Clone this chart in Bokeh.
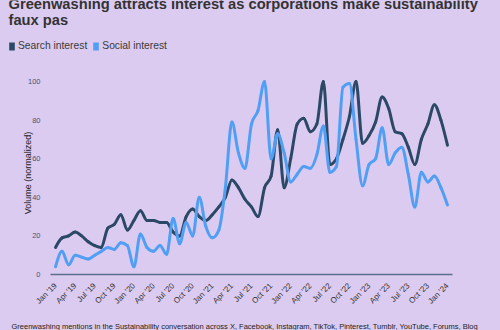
import numpy as np
from math import pi
from bokeh.plotting import figure
from bokeh.layouts import column
from bokeh.models import (Range1d, FixedTicker, Label, Legend, LegendItem, ColumnDataSource)
from bokeh.embed import file_html
from bokeh.resources import INLINE

# ---- data ----
tick_labels = ["Jan '19", "Apr '19", "Jul '19", "Oct '19", "Jan '20", "Apr '20", "Jul '20", "Oct '20",
               "Jan '21", "Apr '21", "Jul '21", "Oct '21", "Jan '22", "Apr '22", "Jul '22", "Oct '22",
               "Jan '23", "Apr '23", "Jul '23", "Oct '23", "Jan '24"]
search_interest = [14, 19, 20, 22, 20, 17, 15, 14, 24, 26,
                   31, 23, 28, 33, 28, 28, 27, 27, 22, 20,
                   30, 34, 30, 28, 31, 35, 40, 49, 45, 39,
                   35, 30, 45, 51, 75, 45, 60, 78, 81, 74,
                   78, 100, 57, 60, 70, 82, 100, 68, 72, 79,
                   92, 86, 74, 73, 66, 57, 70, 78, 88, 80,
                   67]
social_interest = [4, 12, 5, 10, 9, 8, 10, 12, 14, 13,
                   16.5, 15, 4, 21, 14, 12, 15, 10.5, 29, 16,
                   27, 20, 40, 25, 19, 23, 45, 79, 63, 55,
                   78, 85, 100, 60, 73, 63, 48, 52, 56, 55,
                   62, 77, 53, 56, 97, 99, 70, 46, 57, 60,
                   76, 57, 63, 66, 52, 35, 53, 48, 51, 45,
                   36]
months = list(range(len(search_interest)))
series_names = ["Search interest", "Social interest"]
title_lines = ["Greenwashing attracts interest as corporations make sustainability", "faux pas"]
caption_lines = ["Greenwashing mentions in the Sustainability conversation across X, Facebook, "
                 "Instagram, TikTok, Pinterest, Tumblr, YouTube, Forums, Blog",
                 "and Reddit, and Google Search volume interest, Jan 2019 to Jan 2024."]

BG = "#dccbf0"
DARK = "#2b4966"
LIGHT = "#519ff4"
FONT = "Liberation Sans"
W = 500


def monotone_bezier(xs, ys):
    """Control points of a monotone cubic curve (as D3 curveMonotoneX)."""
    x = np.asarray(xs, float)
    y = np.asarray(ys, float)
    h = np.diff(x)
    s = np.diff(y) / h
    n = len(x)
    t = np.zeros(n)
    for i in range(1, n - 1):
        h0, h1 = h[i - 1], h[i]
        s0, s1 = s[i - 1], s[i]
        p_ = (s0 * h1 + s1 * h0) / (h0 + h1)
        t[i] = (np.sign(s0) + np.sign(s1)) * min(abs(s0), abs(s1), 0.5 * abs(p_))
    t[0] = (3 * s[0] - t[1]) / 2
    t[-1] = (3 * s[-1] - t[-2]) / 2
    d = h / 3
    return dict(x0=x[:-1], y0=y[:-1], x1=x[1:], y1=y[1:],
                cx0=x[:-1] + d, cy0=y[:-1] + t[:-1] * d,
                cx1=x[1:] - d, cy1=y[1:] - t[1:] * d)


def panel(height):
    f = figure(width=W, height=height, output_backend="svg", toolbar_location=None,
               x_range=Range1d(0, W), y_range=Range1d(height, 0),
               x_axis_type=None, y_axis_type=None,
               min_border=0, background_fill_color=BG, border_fill_color=BG,
               outline_line_color=None)
    f.grid.visible = False
    f.frame_align = False
    f.styles = {"background-color": BG}
    return f


# ---- header: title + legend ----
HEAD_H = 71
head = panel(HEAD_H)
for txt, yy in zip(title_lines, [3.5, 19]):
    head.add_layout(Label(x=8, y=yy, text=txt, text_font=FONT, text_font_size="14.7px",
                          text_font_style="bold", text_color="#333333",
                          text_baseline="alphabetic"))
swatches = []
for col in [DARK, LIGHT]:
    swatches.append(head.quad(left=[np.nan], right=[np.nan], top=[np.nan], bottom=[np.nan],
                              fill_color=col, line_color=None))
legend = Legend(items=[LegendItem(label=n, renderers=[r]) for n, r in zip(series_names, swatches)],
                orientation="horizontal", location=(8, HEAD_H - 51), padding=0, margin=0,
                spacing=5, label_standoff=3, glyph_width=7, glyph_height=10,
                border_line_color=None, background_fill_alpha=0,
                label_text_font=FONT, label_text_font_size="10.3px", label_text_color="#3a3a3a",
                label_height=10)
head.add_layout(legend)

# ---- main chart ----
p = figure(width=W, height=241, output_backend="svg", toolbar_location=None,
           x_range=Range1d(-0.77, 60.77), y_range=Range1d(0, 105.2),
           min_border_left=50, min_border_right=48, min_border_top=0, min_border_bottom=38,
           background_fill_color=BG, border_fill_color=BG, outline_line_color=None)
p.grid.visible = False
p.frame_align = False
p.styles = {"background-color": BG}

for vals, col in [(search_interest, DARK), (social_interest, LIGHT)]:
    p.bezier(source=ColumnDataSource(monotone_bezier(months, vals)),
             x0="x0", y0="y0", x1="x1", y1="y1", cx0="cx0", cy0="cy0", cx1="cx1", cy1="cy1",
             line_color=col, line_width=3, line_cap="round")

xa = p.xaxis[0]
xa.ticker = FixedTicker(ticks=[i * 3 for i in range(len(tick_labels))])
xa.major_label_overrides = {i * 3: lab for i, lab in enumerate(tick_labels)}
xa.major_label_orientation = pi / 4
xa.axis_line_color = "#5b6f8f"
xa.axis_line_width = 1.3
xa.major_tick_line_color = None
xa.minor_tick_line_color = None
xa.major_label_text_font = FONT
xa.major_label_text_font_size = "8px"
xa.major_label_text_color = "#333333"
xa.major_label_standoff = 4

ya = p.yaxis[0]
ya.ticker = FixedTicker(ticks=[0, 20, 40, 60, 80, 100])
ya.axis_line_color = None
ya.major_tick_line_color = None
ya.minor_tick_line_color = None
ya.major_label_text_font = FONT
ya.major_label_text_font_size = "7.5px"
ya.major_label_text_color = "#4a5270"
ya.major_label_standoff = 4
ya.axis_label = "Volume (normalized)"
ya.axis_label_text_font = FONT
ya.axis_label_text_font_size = "9px"
ya.axis_label_text_font_style = "normal"
ya.axis_label_text_color = "#222222"
ya.axis_label_standoff = -8

# ---- footer: caption ----
FOOT_H = 18
foot = panel(FOOT_H)
for txt, yy in zip(caption_lines, [14, 25]):
    foot.add_layout(Label(x=11, y=yy, text=txt, text_font=FONT, text_font_size="7.5px",
                          text_color="#222222", text_baseline="alphabetic"))

layout = column(head, p, foot, spacing=0)
layout.styles = {"background-color": BG}
open("out.html", "w").write(file_html(layout, INLINE))
